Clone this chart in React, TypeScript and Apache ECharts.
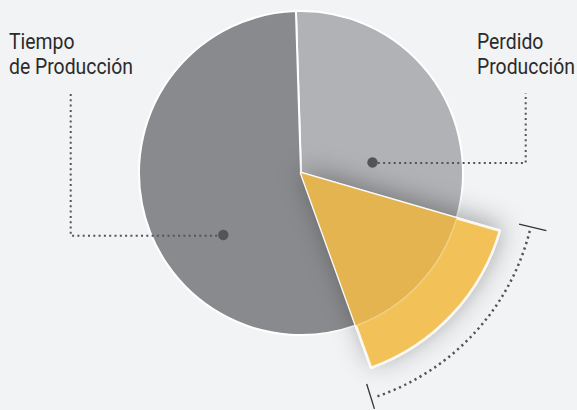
import React, { useEffect, useRef } from "react";
import * as echarts from "echarts";

const categories = ["Perdido Producción", "Pérdida", "Tiempo de Producción"];
const values = [30, 15, 55];
const colors = ["#b1b2b5", "#e3b44f", "#898a8d"];
const highlightColor = "#f2c158";
const labelLeft = ["Tiempo", "de Producción"];
const labelRight = ["Perdido", "Producción"];

const W = 577;
const H = 410;
const CX = 301;
const CY = 173;
const R = 162;
const R_OUT = 207;
const START_CLOCK = -1.8; // degrees clockwise from 12 o'clock

const FONT_FAMILY = 'Roboto, "Noto Sans", sans-serif';
const FONT = "22px " + FONT_FAMILY;

function pt(clockDeg: number, r: number) {
  const a = ((clockDeg - 90) * Math.PI) / 180;
  return [CX + r * Math.cos(a), CY + r * Math.sin(a)];
}

function textScale(): number {
  try {
    const c = document.createElement("canvas").getContext("2d");
    if (!c) return 0.82;
    c.font = FONT;
    const w = c.measureText("de Producción").width;
    return w > 0 ? 124 / w : 0.82;
  } catch (e) {
    return 0.82;
  }
}

export default function App() {
  const ref = useRef<HTMLDivElement>(null);
  useEffect(() => {
    if (!ref.current) return;
    const chart = echarts.init(ref.current, null, { renderer: "svg" });
    const total = values.reduce((s, v) => s + v, 0);
    const yStart = START_CLOCK + (360 * values[0]) / total;
    const yEnd = yStart + (360 * values[1]) / total;
    const startAngle = 90 - START_CLOCK;
    const rad = (c: number) => ((c - 90) * Math.PI) / 180;
    const sx = textScale();

    const base = categories.map((name, i) => ({
      name,
      value: values[i],
      itemStyle: { color: colors[i] },
    }));
    const onlyHighlight = (color: string, extra: any) =>
      categories.map((name, i) =>
        i === 1
          ? { name, value: values[i], itemStyle: { color, ...extra } }
          : { name, value: values[i], itemStyle: { color: "transparent", borderWidth: 0, shadowBlur: 0 } }
      );

    const dotStyle = { stroke: "#535456", lineWidth: 2, lineDash: [2, 3.3], lineCap: "butt", fill: "none" };
    const lp = [223.3, 235];
    const rp = [372.5, 162.5];
    const t1 = pt(yStart - 3, 224);
    const t2 = pt(yStart - 3, 252);
    const b1 = pt(yEnd + 2.5, 221);
    const b2 = pt(yEnd + 2.5, 247);

    const txt = (text: string, x: number, y: number) => ({
      type: "text",
      z: 100,
      x,
      y,
      scaleX: sx,
      style: { text, x: 0, y: 0, font: FONT, fill: "#2b2b2b", verticalAlign: "middle" },
    });

    chart.setOption({
      animation: false,
      backgroundColor: "#f2f3f4",
      series: [
        {
          type: "pie",
          silent: true,
          center: [CX, CY],
          radius: [0, R],
          startAngle,
          label: { show: false },
          labelLine: { show: false },
          itemStyle: { borderColor: "#ffffff", borderWidth: 2 },
          data: base,
          z: 1,
        },
        {
          type: "pie",
          silent: true,
          center: [CX, CY],
          radius: [0, R_OUT],
          startAngle,
          label: { show: false },
          labelLine: { show: false },
          data: onlyHighlight(highlightColor, {
            borderColor: "rgba(255,255,255,0.85)",
            borderWidth: 2.5,
            shadowBlur: 26,
            shadowColor: "rgba(0,0,0,0.33)",
            shadowOffsetX: 2,
            shadowOffsetY: -4,
          }),
          z: 2,
        },
        {
          type: "pie",
          silent: true,
          center: [CX, CY],
          radius: [0, R],
          startAngle,
          label: { show: false },
          labelLine: { show: false },
          data: onlyHighlight(colors[1], { borderWidth: 0 }),
          z: 3,
        },
      ],
      graphic: [
        {
          type: "arc",
          z: 100,
          shape: { cx: CX, cy: CY, r: R, startAngle: rad(yStart + 0.5), endAngle: rad(yEnd - 0.5) },
          style: { stroke: "rgba(255,255,255,0.3)", lineWidth: 1.5, fill: "none" },
        },
        // left leader
        { type: "polyline", z: 100, shape: { points: [[70.7, 94], [70.7, 235.7], [lp[0], 235.7]] }, style: dotStyle },
        { type: "circle", z: 101, shape: { cx: lp[0], cy: lp[1], r: 5.2 }, style: { fill: "#535456" } },
        // right leader
        { type: "polyline", z: 100, shape: { points: [[rp[0], 163], [525.7, 163], [525.7, 93]] }, style: dotStyle },
        { type: "circle", z: 101, shape: { cx: rp[0], cy: rp[1], r: 5.2 }, style: { fill: "#535456" } },
        // bracket arc
        {
          type: "arc",
          z: 100,
          shape: { cx: CX, cy: CY, r: 236, startAngle: rad(yStart - 2), endAngle: rad(yEnd + 1) },
          style: { stroke: "#535456", lineWidth: 2.5, lineDash: [2.2, 3.6], lineCap: "butt", fill: "none" },
        },
        { type: "line", z: 100, shape: { x1: t1[0], y1: t1[1], x2: t2[0], y2: t2[1] }, style: { stroke: "#333", lineWidth: 1.3 } },
        { type: "line", z: 100, shape: { x1: b1[0], y1: b1[1], x2: b2[0], y2: b2[1] }, style: { stroke: "#333", lineWidth: 1.3 } },
        // labels
        txt(labelLeft[0], 9, 41.5),
        txt(labelLeft[1], 9, 66.5),
        txt(labelRight[0], 477, 41.5),
        txt(labelRight[1], 477, 66.5),
      ],
    });
    return () => chart.dispose();
  }, []);
  return <div ref={ref} style={{ position: "fixed", left: 0, top: 0, width: W, height: H }} />;
}
